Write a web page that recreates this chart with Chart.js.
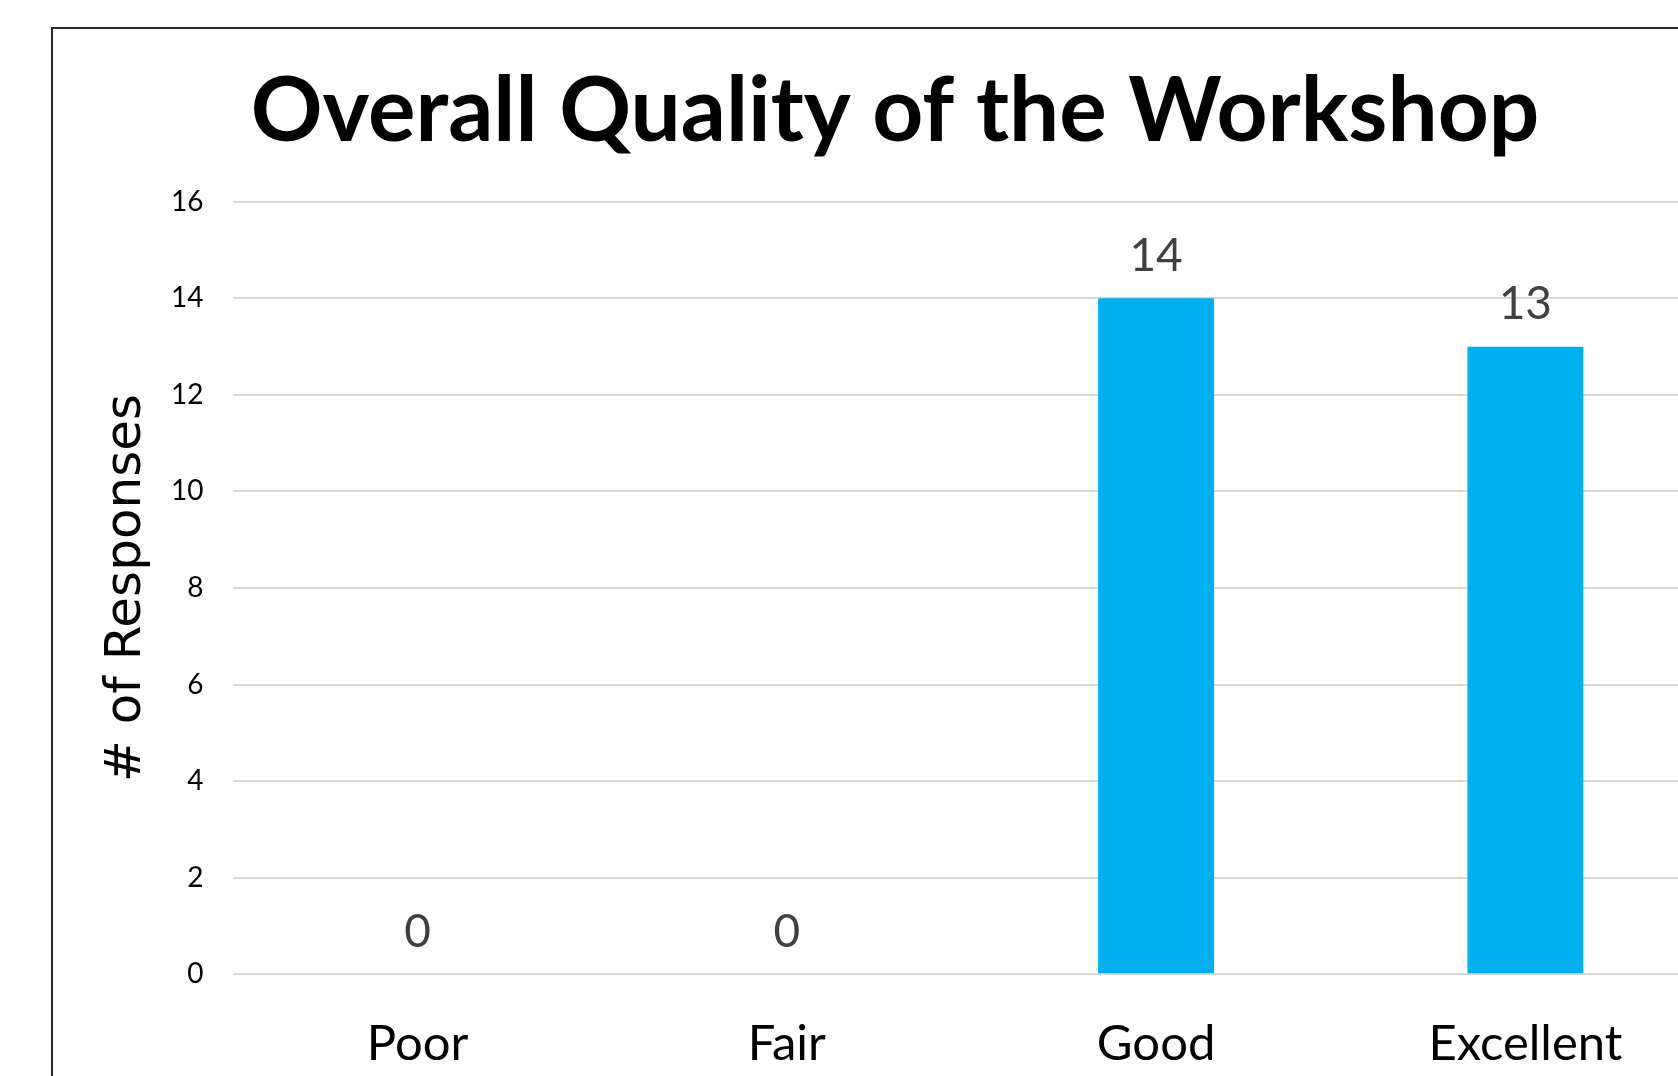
<!DOCTYPE html>
<html>
<head>
<meta charset="utf-8">
<script src="https://cdn.jsdelivr.net/npm/chart.js@4.4.1/dist/chart.umd.min.js"></script>
<style>
  html, body { margin: 0; padding: 0; background: #ffffff; overflow: hidden; }
  #wrap { position: relative; width: 1678px; height: 1076px; overflow: hidden; }
  #frame { position: absolute; left: 51px; top: 27px; width: 2000px; height: 2000px;
           border-left: 2px solid #2b2b2b; border-top: 2px solid #2b2b2b; }
  #myChart { position: absolute; left: 0; top: 0; }
</style>
</head>
<body>
<div id="wrap">
  <div id="frame"></div>
  <canvas id="myChart" width="1790" height="1120"></canvas>
</div>
<script>
// datos del grafico
const categorias = ["Poor", "Fair", "Good", "Excellent"];
const respuestas = [0, 0, 14, 13];
const ejeY = { min: 0, max: 16, paso: 2 };

const ctx = document.getElementById('myChart');

// etiquetas encima de cada barra
const etiquetas = {
  id: "etiquetas",
  afterDatasetsDraw(chart) {
    const c = chart.ctx;
    const meta = chart.getDatasetMeta(0);
    c.save();
    c.font = "46px Lato";
    c.fillStyle = "#404040";
    c.textAlign = "center";
    c.textBaseline = "middle";
    meta.data.forEach(function (bar, i) {
      c.fillText(String(respuestas[i]), bar.x, bar.y - 42);
    });
    c.restore();
  }
};

new Chart(ctx, {
  type: "bar",
  data: {
    labels: categorias,
    datasets: [{
      label: "# of Responses",
      data: respuestas,
      backgroundColor: "#00B0F0",
      borderWidth: 0,
      barPercentage: 0.314,
      categoryPercentage: 1
    }]
  },
  options: {
    responsive: false,
    animation: false,
    devicePixelRatio: 1,
    layout: { padding: { left: 80, right: 80, top: 0, bottom: 5 } },
    plugins: {
      legend: { display: false },
      tooltip: { enabled: false },
      title: {
        display: true,
        text: "Overall Quality of the Workshop",
        color: "#000000",
        font: { family: "Lato", size: 89, weight: "bold", lineHeight: 1.2 },
        padding: { top: 59, bottom: 36 }
      }
    },
    scales: {
      x: {
        grid: { display: false, drawTicks: false },
        border: { display: false },
        ticks: {
          color: "#000000",
          font: { family: "Lato", size: 49, lineHeight: 1.2 },
          padding: 41
        }
      },
      y: {
        min: ejeY.min,
        max: ejeY.max,
        grid: { color: "#d9d9d9", lineWidth: 2, drawTicks: false },
        border: { display: false },
        ticks: {
          stepSize: ejeY.paso,
          color: "#000000",
          font: { family: "Lato", size: 28 },
          padding: 29.5
        },
        title: {
          display: true,
          text: "# of Responses",
          color: "#000000",
          font: { family: "DejaVu Sans", size: 50, lineHeight: 0.56 },
          padding: { top: 33.5, bottom: 0 }
        }
      }
    }
  },
  plugins: [etiquetas]
});
</script>
</body>
</html>
